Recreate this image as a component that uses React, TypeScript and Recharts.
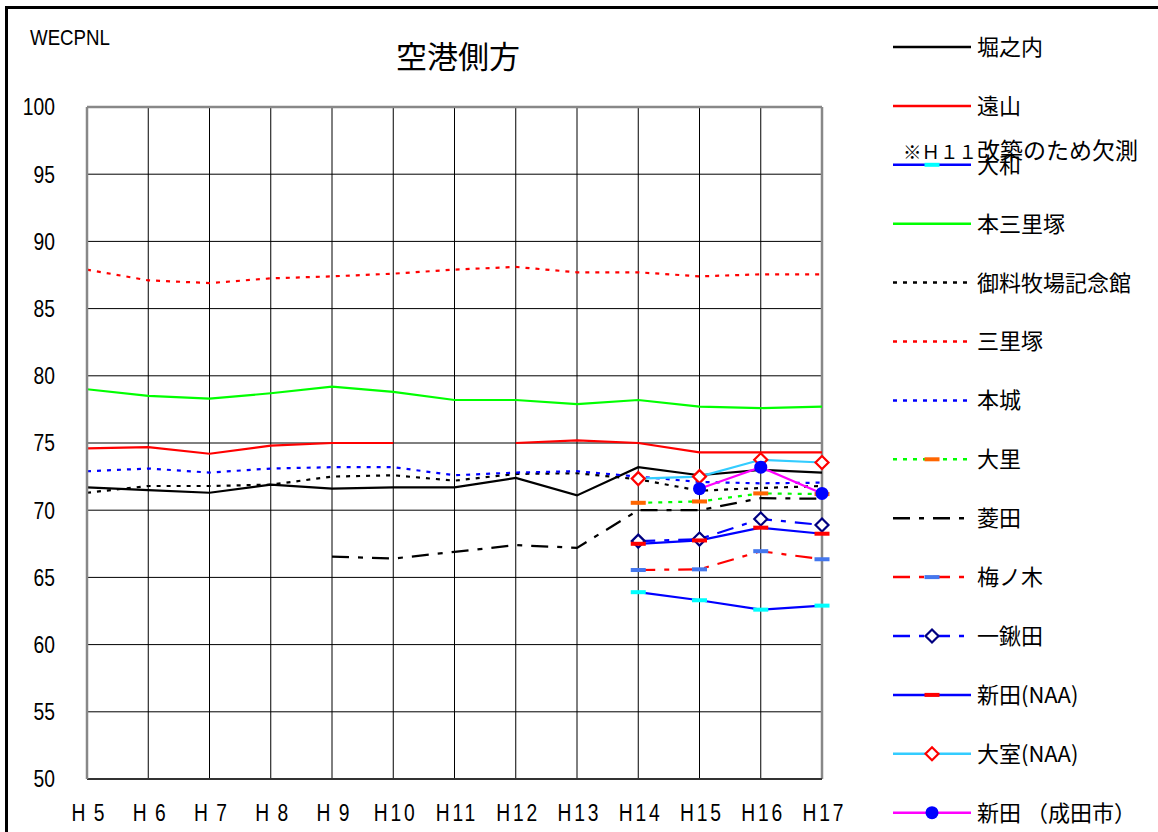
import React from 'react';
import { LineChart, Line, XAxis, YAxis, CartesianGrid, ReferenceLine } from 'recharts';

const years = ['H5', 'H6', 'H7', 'H8', 'H9', 'H10', 'H11', 'H12', 'H13', 'H14', 'H15', 'H16', 'H17'];
const yTicks = [50, 55, 60, 65, 70, 75, 80, 85, 90, 95, 100];

const horinouchi = [71.7, 71.5, 71.3, 71.9, 71.6, 71.7, 71.7, 72.4, 71.1, 73.2, 72.6, 73.0, 72.8];
const tooyama = [74.6, 74.7, 74.2, 74.8, 75.0, 75.0, null, 75.0, 75.2, 75.0, 74.3, 74.3, 74.3];
const yamato = [null, null, null, null, null, null, null, null, null, 63.9, 63.3, 62.6, 62.9];
const honSanrizuka = [79.0, 78.5, 78.3, 78.7, 79.2, 78.8, 78.2, 78.2, 77.9, 78.2, 77.7, 77.6, 77.7];
const goryoBokujo = [71.3, 71.8, 71.8, 71.9, 72.5, 72.6, 72.2, 72.7, 72.75, 72.3, 71.45, 71.65, 71.8];
const sanrizuka = [87.9, 87.1, 86.9, 87.25, 87.4, 87.6, 87.9, 88.1, 87.7, 87.7, 87.4, 87.55, 87.55];
const honjo = [72.9, 73.1, 72.8, 73.1, 73.2, 73.2, 72.6, 72.8, 72.9, 72.5, 72.1, 72.0, 72.05];
const osato = [null, null, null, null, null, null, null, null, null, 70.55, 70.65, 71.25, 71.2];
const hishida = [null, null, null, null, 66.55, 66.4, 66.9, 67.4, 67.2, 70.0, 70.0, 70.9, 70.85];
const umenoki = [null, null, null, null, null, null, null, null, null, 65.55, 65.6, 66.95, 66.35];
const hitokuwada = [null, null, null, null, null, null, null, null, null, 67.7, 67.85, 69.35, 68.9];
const nittaNAA = [null, null, null, null, null, null, null, null, null, 67.5, 67.75, 68.7, 68.25];
const omuroNAA = [null, null, null, null, null, null, null, null, null, 72.35, 72.5, 73.75, 73.55];
const nittaNarita = [null, null, null, null, null, null, null, null, null, null, 71.6, 73.2, 71.25];

type Marker = null | { kind: 'dash' | 'diamond' | 'circle'; color: string };

const seriesList: { name: string; data: (number | null)[]; color: string; dash?: string; marker: Marker }[] = [
  { name: '堀之内', data: horinouchi, color: '#000000', marker: null },
  { name: '遠山', data: tooyama, color: '#FF0000', marker: null },
  { name: '大和', data: yamato, color: '#0000FF', marker: { kind: 'dash', color: '#00FFFF' } },
  { name: '本三里塚', data: honSanrizuka, color: '#00FF00', marker: null },
  { name: '御料牧場記念館', data: goryoBokujo, color: '#000000', dash: '4 6', marker: null },
  { name: '三里塚', data: sanrizuka, color: '#FF0000', dash: '4 6', marker: null },
  { name: '本城', data: honjo, color: '#0000FF', dash: '4 6', marker: null },
  { name: '大里', data: osato, color: '#00FF00', dash: '4 6', marker: { kind: 'dash', color: '#FF6600' } },
  { name: '菱田', data: hishida, color: '#000000', dash: '17 9 5 9', marker: null },
  { name: '梅ノ木', data: umenoki, color: '#FF0000', dash: '17 9 5 9', marker: { kind: 'dash', color: '#4477EE' } },
  { name: '一鍬田', data: hitokuwada, color: '#0000FF', dash: '17 9 5 9', marker: { kind: 'diamond', color: '#000080' } },
  { name: '新田(NAA)', data: nittaNAA, color: '#0000FF', marker: { kind: 'dash', color: '#FF0000' } },
  { name: '大室(NAA)', data: omuroNAA, color: '#33CCFF', marker: { kind: 'diamond', color: '#FF0000' } },
  { name: '新田 （成田市）', data: nittaNarita, color: '#FF00FF', marker: { kind: 'circle', color: '#0000FF' } },
];

const notePrefix = '※Ｈ１１';
const noteRest = '改築のため欠測';
const titleText = '空港側方';
const unitText = 'WECPNL';

const rows = years.map((y, i) => {
  const r: Record<string, any> = { year: y };
  seriesList.forEach((s, k) => {
    r['s' + k] = s.data[i];
  });
  return r;
});

const W = 1158;
const H = 832;
const sans = '"Liberation Sans", Arial, sans-serif';
const cjk = '"Noto Sans CJK JP", "Noto Sans", sans-serif';

function drawMarker(m: Marker, cx: number, cy: number, key?: any) {
  if (!m) return <g key={key} />;
  if (m.kind === 'dash') return <rect key={key} x={cx - 7.5} y={cy - 2} width={15} height={4} fill={m.color} />;
  if (m.kind === 'diamond')
    return (
      <polygon
        key={key}
        points={`${cx},${cy - 6.5} ${cx + 6.5},${cy} ${cx},${cy + 6.5} ${cx - 6.5},${cy}`}
        fill="#FFFFFF"
        stroke={m.color}
        strokeWidth={2.2}
      />
    );
  return <circle key={key} cx={cx} cy={cy} r={6.5} fill={m.color} />;
}

const makeDot = (m: Marker) => (props: any) => {
  const { cx, cy, key, value } = props;
  if (!m || cx == null || cy == null || value == null || isNaN(cy)) return <g key={key} />;
  return drawMarker(m, cx, cy, key);
};

const XTick = (props: any) => {
  const { x, y, payload } = props;
  const v: string = payload.value;
  const ls = v.length === 2 ? 10 : 3.5;
  return (
    <g transform={`translate(${x + 1},${y + 40}) scale(0.82,1)`}>
      <text x={ls / 2} y={0} textAnchor="middle" fontSize={23.5} fontFamily={sans} fill="#000" letterSpacing={ls}>
        {v}
      </text>
    </g>
  );
};

const YTick = (props: any) => {
  const { x, y, payload } = props;
  return (
    <g transform={`translate(${x},${y}) scale(0.82,1)`}>
      <text x={0} y={0} dy="0.36em" textAnchor="end" fontSize={23.5} fontFamily={sans} fill="#000">
        {payload.value}
      </text>
    </g>
  );
};

export default function App() {
  const legendTop = 47;
  const legendStep = 58.9;
  return (
    <div style={{ position: 'absolute', left: 0, top: 0, width: W, height: H, overflow: 'hidden', background: '#fff' }}>
      <div style={{ position: 'absolute', left: 5, top: 6, width: W + 40, height: H + 40, border: '3px solid #000', boxSizing: 'border-box' }} />
      <div style={{ position: 'absolute', left: 0, top: 0 }}>
        <LineChart width={W} height={H} data={rows} margin={{ top: 107, right: 336, bottom: 13, left: 27 }}>
          <CartesianGrid stroke="#000" strokeWidth={1} />
          <XAxis
            dataKey="year"
            interval={0}
            tickLine={false}
            tickSize={0}
            height={40}
            axisLine={{ stroke: '#333', strokeWidth: 2 }}
            tick={<XTick />}
          />
          <YAxis
            domain={[50, 100]}
            ticks={yTicks}
            interval={0}
            tickLine={false}
            tickSize={0}
            tickMargin={32}
            width={60}
            axisLine={{ stroke: '#888', strokeWidth: 2.5 }}
            tick={<YTick />}
          />
          <ReferenceLine y={100} stroke="#888" strokeWidth={2.5} />
          <ReferenceLine x="H17" stroke="#888" strokeWidth={2.5} />
          {seriesList.map((s, k) => (
            <Line
              key={s.name}
              type="linear"
              dataKey={'s' + k}
              name={s.name}
              stroke={s.color}
              strokeWidth={2.2}
              strokeDasharray={s.dash}
              dot={makeDot(s.marker)}
              activeDot={false}
              connectNulls={false}
              isAnimationActive={false}
            />
          ))}
        </LineChart>
      </div>
      <svg width={W} height={H} style={{ position: 'absolute', left: 0, top: 0, pointerEvents: 'none' }}>
        <g transform="translate(30,45) scale(0.85,1)">
          <text x={0} y={0} fontSize={22} fontFamily={sans} fill="#000">
            {unitText}
          </text>
        </g>
        <text x={458} y={57} dy="0.36em" textAnchor="middle" fontSize={31} fontFamily={cjk} fill="#000">
          {titleText}
        </text>
        {seriesList.map((s, k) => {
          const cy = legendTop + k * legendStep;
          return (
            <g key={s.name}>
              <line x1={893} x2={971} y1={cy} y2={cy} stroke={s.color} strokeWidth={2.5} strokeDasharray={s.dash} />
              {drawMarker(s.marker, 932, cy)}
              <text x={977} y={cy} dy="0.36em" fontSize={22} fontFamily={cjk} fill="#000">
                {s.name}
              </text>
            </g>
          );
        })}
        <text x={903} y={153} dy="0.36em" fontFamily={cjk} fill="#000">
          <tspan fontSize={18.5}>{notePrefix}</tspan>
          <tspan fontSize={23}>{noteRest}</tspan>
        </text>
      </svg>
    </div>
  );
}
